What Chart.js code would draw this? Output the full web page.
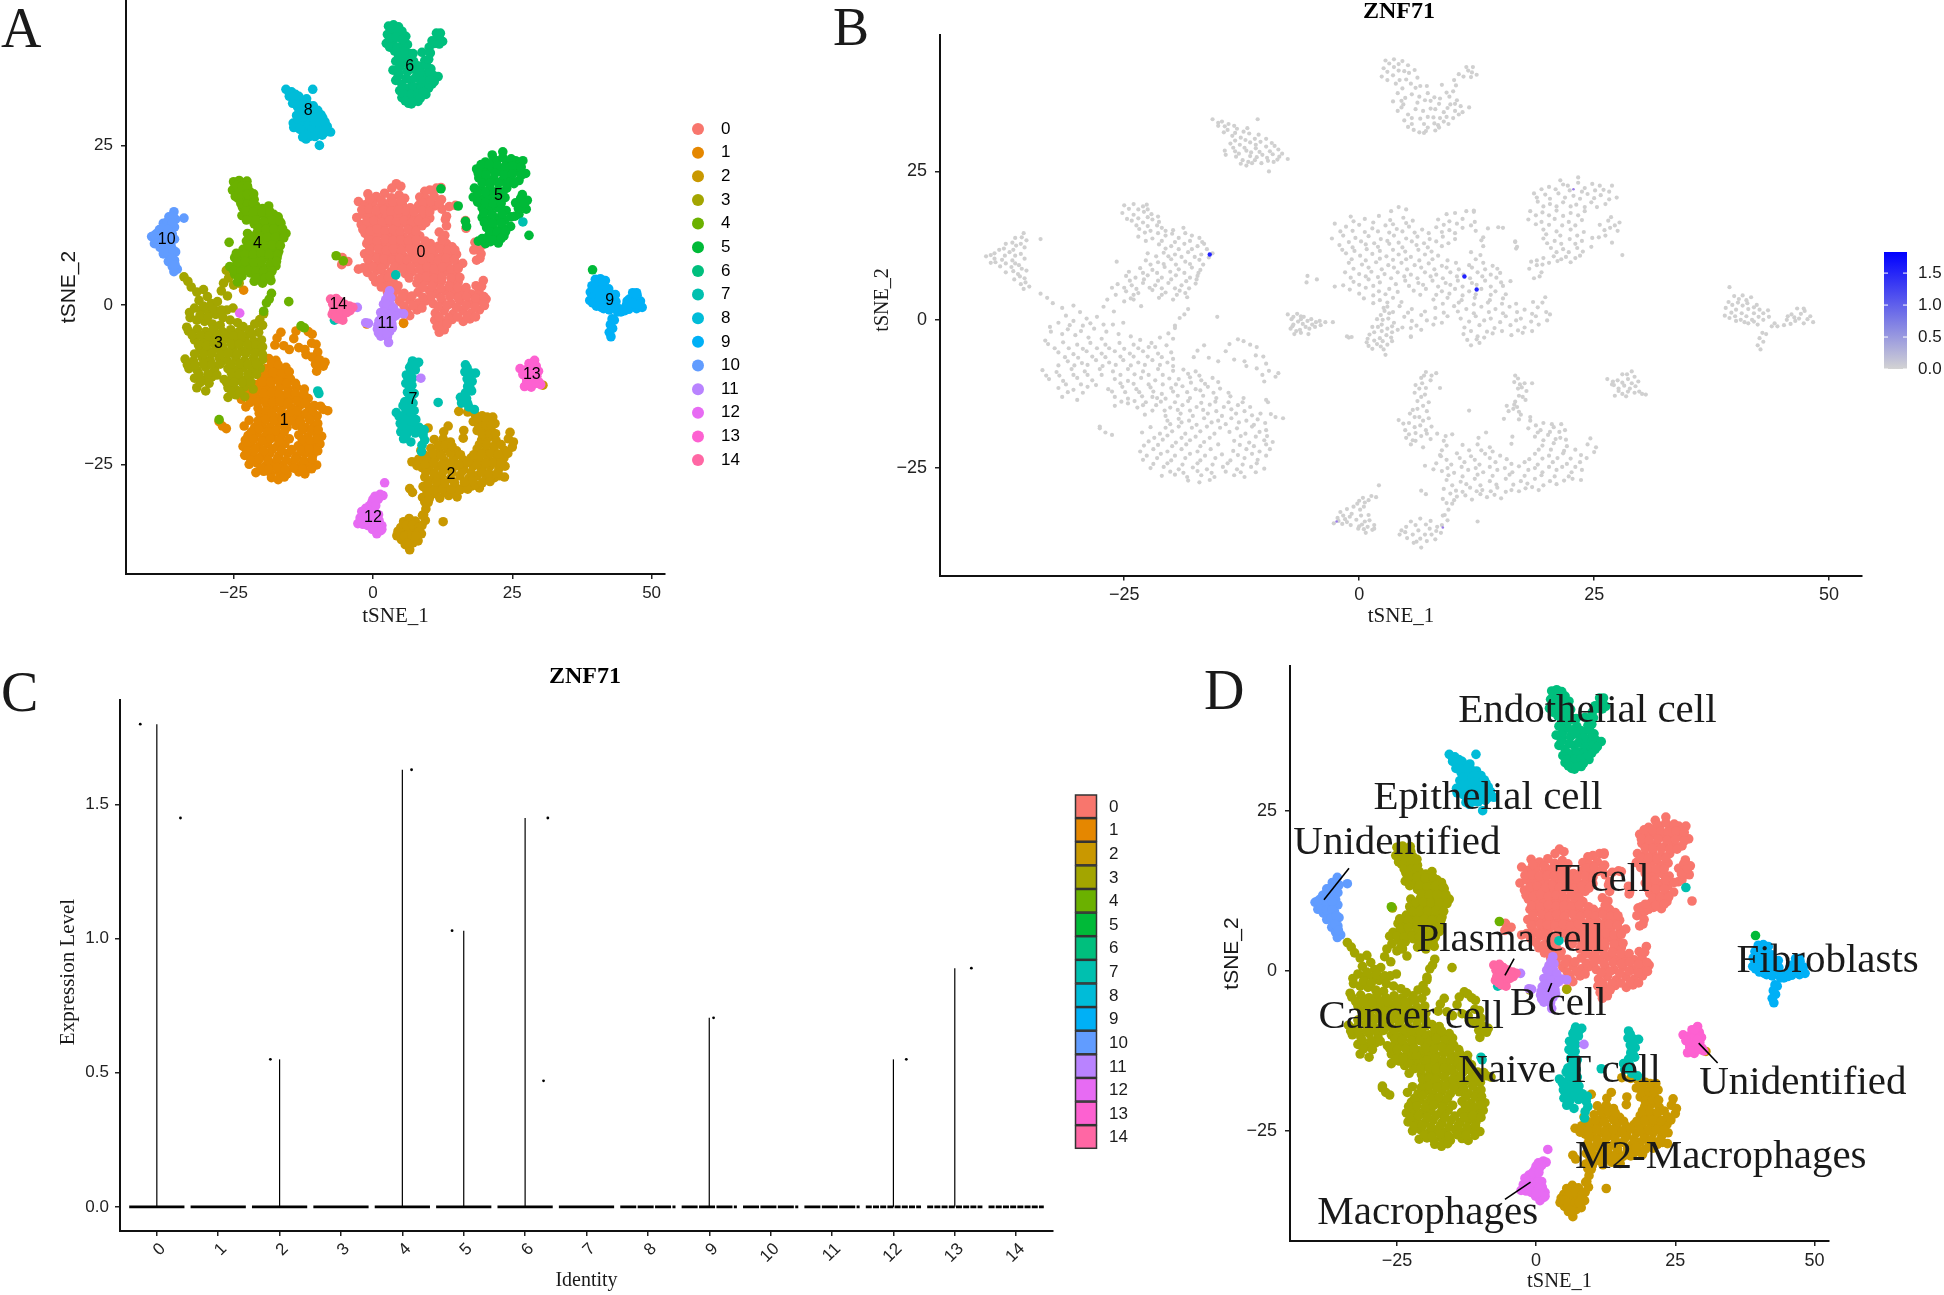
<!DOCTYPE html>
<html><head><meta charset="utf-8">
<style>html,body{margin:0;padding:0;background:#fff;overflow:hidden}canvas{position:absolute;display:block}</style>
<script src="https://cdn.jsdelivr.net/npm/chart.js@4"></script>
</head><body>
<canvas id="a" width="780" height="640" style="left:0;top:0"></canvas>
<canvas id="b" width="1124" height="640" style="left:820px;top:0"></canvas>
<canvas id="c" width="1060" height="645" style="left:0;top:650px"></canvas>
<canvas id="d" width="754" height="645" style="left:1190px;top:650px"></canvas>
<canvas id="cleg" width="120" height="400" style="left:1060px;top:770px"></canvas>
<script>
const identities=["0","1","2","3","4","5","6","7","8","9","10","11","12","13","14"];
const tsneTicks=[-25,0,25,50];
const tsneYTicks=[-25,0,25];
const hueColors=["#F8766D","#E58700","#C99800","#A3A500","#6BB100","#00BA38","#00BF7D","#00C0AF","#00BCD8","#00B0F6","#619CFF","#B983FF","#E76BF3","#FD61D1","#FF67A4"];
const mergedColors=["#F8766D","#A3A500","#C99800","#A3A500","#A3A500","#F8766D","#00BF7D","#00C0AF","#00BCD8","#00B0F6","#619CFF","#B983FF","#E76BF3","#FD61D1","#FF67A4"];

const cluster0=[[4.2,19],[5,18.6],[3.4,18.3],[11.4,18.3],[12.2,18.4],[10.2,18],[9.3,17.8],[-0.9,17.4],[0.6,17],[2.1,17.5],[3.3,16.8],[4.7,17.2],[5.7,16.7],[8.4,16.9],[9.6,16.6],[11,17],[12.3,16.5],[-2.6,16.2],[-1.4,15.7],[0,16],[1.4,15.4],[2.8,15.9],[4,15.3],[5.3,15.7],[6.7,15.2],[8.2,15.6],[9.6,15.1],[11,15.5],[12.4,15],[13.7,15.4],[14.8,15.6],[-2.9,13.7],[-1.7,14.2],[-0.4,13.8],[1,14.1],[2.3,13.6],[3.7,14.2],[5,13.7],[6.2,14],[7.5,13.6],[8.9,14],[10.2,13.6],[-2.1,12.6],[-0.7,12.2],[0.7,12.7],[2,12.3],[3.2,12.8],[4.6,12.2],[6.1,12.6],[7.3,12.2],[8.8,12.4],[13,13.4],[13.2,12.4],[16.6,13.2],[16.7,12],[-1.4,11.2],[0.1,10.8],[1.4,11.1],[2.9,10.7],[4.2,11],[5.5,10.6],[7,11],[8.4,10.8],[11.9,11.4],[12.9,10.9],[-1.1,9.6],[0.3,9.3],[1.8,9.7],[3.1,9.2],[4.5,9.6],[5.9,9.2],[7.4,9.5],[8.8,9.1],[10.3,9.6],[11.7,9.2],[13.2,9.6],[14.2,9.1],[18.9,9.2],[18.1,8.6],[19.4,8],[-1.5,8],[0,7.7],[1.3,8.1],[2.7,7.7],[4.1,8],[5.5,7.6],[7,8],[8.2,7.6],[9.7,8],[11.1,7.6],[12.6,8],[14,7.6],[15,7.9],[18.6,7],[-5.5,7.4],[-4.5,6.8],[-5.6,6.3],[-0.6,6.4],[1,6.8],[2.2,6.3],[4.9,6.6],[6.3,6.2],[7.8,6.6],[9.2,6.2],[10.5,6.6],[12,6.2],[13.4,6.6],[15.1,6.3],[16.1,6.5],[-2.6,5.6],[-1,5.1],[0.7,5.4],[2.1,4.8],[3.2,5.2],[5.8,4.9],[7.1,5.2],[8.8,4.8],[10.2,5.2],[11.7,4.8],[13,5.2],[14.5,4.8],[0.5,3.6],[2.2,3.3],[3.6,3.7],[7.9,3.4],[9.4,3.7],[10.9,3.3],[12.3,3.7],[13.9,3.3],[15.3,3.6],[19.8,3.8],[2.6,2],[4.3,2.3],[5.6,1.8],[8.1,2],[10.1,2.3],[11.4,1.8],[13,2.2],[14.5,1.8],[16,2.2],[17.6,1.7],[19,2.1],[4.8,0.5],[6.6,0.8],[8.1,0.3],[9.4,0.6],[10.8,0.2],[12.4,0.6],[14,0.2],[15.6,0.6],[17.2,0.2],[18.8,0.6],[20.3,0.9],[6.1,-1],[7.9,-0.8],[11.2,-1.3],[12.8,-0.9],[14.4,-1.4],[16.1,-0.9],[17.6,-1.3],[19.1,-0.8],[5.5,-2.8],[11.1,-2.4],[12.6,-2.8],[14.2,-2.3],[16.2,-2.6],[17.4,-2.2],[11.9,-4.3],[12.8,-3.9]];
const fill0=[[-0.6,16.6],[1.5,16.4],[3.6,16.1],[5,16.3],[9,16],[10.4,16.2],[11.9,15.9],[-2,14.9],[-0.7,15],[0.6,14.8],[2,14.9],[3.2,14.7],[4.6,14.9],[5.9,14.7],[7.4,14.6],[8.8,14.8],[10.2,14.6],[-1.1,13.1],[0.2,13.2],[1.6,12.9],[3,13.3],[4.2,13],[5.6,13.2],[6.9,12.9],[8.2,13.2],[9.5,12.9],[-1.8,11.8],[-0.5,11.6],[0.8,11.9],[2.2,11.6],[3.6,11.8],[4.9,11.5],[6.3,11.8],[7.7,11.5],[-0.8,10.2],[0.7,10],[2.2,10.3],[3.6,10.1],[5,10.2],[6.4,10],[7.8,10.2],[9.4,10],[12.4,10.2],[-0.6,8.6],[1,8.8],[2.4,8.5],[3.7,8.8],[5.1,8.5],[6.6,8.8],[8,8.5],[9.3,8.8],[10.6,8.5],[12,8.8],[13.4,8.5],[14.7,8.6],[-0.9,7.1],[0.7,7.3],[2,7.2],[3.4,7],[4.8,7.3],[6.2,7],[7.6,7.3],[8.9,7],[10.4,7.3],[11.8,7],[13.1,7.3],[14.6,7.1],[-1.7,5.8],[0,5.9],[1.5,5.7],[3.9,6],[5.3,5.7],[6.8,5.9],[8.4,5.6],[9.7,5.9],[11,5.6],[12.5,5.9],[14,5.6],[15.3,5.7],[0,4.4],[1.5,4.1],[2.8,4.3],[6.5,4.2],[8.2,4.2],[9.6,4.4],[11,4.1],[12.4,4.3],[14,4.2],[15.6,4.3],[1.5,2.8],[3,2.9],[4.5,3],[8.9,2.7],[10.6,2.9],[12.2,2.6],[13.7,2.9],[15.2,2.7],[16.7,2.7],[18.5,3],[19.5,2.9],[3.6,1.3],[5.2,1.2],[7,1.4],[9,1.2],[10.5,1.4],[12.2,1.1],[13.8,1.3],[15.3,1.1],[16.8,1.3],[18.4,1],[19.9,1.3],[5.6,-0.2],[7.2,-0.1],[8.8,-0.5],[11.7,-0.3],[13.3,-0.1],[15,-0.4],[16.7,-0.1],[18.3,-0.3],[20,-0.1],[6.6,-1.7],[11.9,-1.9],[13.6,-2],[15.2,-1.9],[16.9,-1.8],[18.4,-1.9],[11.5,-3.4],[12.5,-3.3],[13.3,-3],[18.3,9.8],[19.5,9.3],[19.2,7.3],[13.2,13.9]];

const cluster1=[[-17.2,-5.2],[-16.5,-4.3],[-17.6,-6.3],[-16,-6.4],[-15,-7],[-14.2,-5.3],[-13.8,-4.1],[-13.3,-6.7],[-12.2,-7],[-11.6,-4.2],[-10.9,-4.6],[-11,-6],[-10.2,-6.2],[-9.9,-7.4],[-10.9,-8.2],[-9.6,-8.6],[-8.9,-9.6],[-8.6,-9],[-10.1,-10.4],[-10.3,-9.3],[-12,-7.8],[-18.7,-8.4],[-17.4,-8.7],[-19.2,-10],[-18,-9.7],[-16.8,-10.2],[-15.6,-9.8],[-20,-11.5],[-18.8,-11.2],[-17.4,-11.7],[-16.1,-11.3],[-14.8,-11.6],[-22,-13],[-20.6,-13.3],[-19.3,-12.8],[-18,-13.2],[-16.6,-12.8],[-15.2,-13.2],[-13.7,-12.9],[-12.3,-13.2],[-23.6,-14.8],[-21.6,-14.4],[-20.1,-14.8],[-18.8,-14.4],[-17.3,-14.7],[-15.9,-14.3],[-14.4,-14.7],[-12.9,-14.4],[-11.6,-14.7],[-22.8,-16],[-20.6,-16.2],[-19,-15.8],[-17.7,-16.2],[-16.1,-15.8],[-14.6,-16.2],[-13.1,-15.8],[-11.4,-16.1],[-10.5,-15.8],[-8.9,-16.4],[-8.1,-16.6],[-9.4,-15.9],[-20.1,-17.6],[-18.9,-17.3],[-17.3,-17.7],[-15.7,-17.3],[-14.2,-17.6],[-12.8,-17.3],[-11.2,-17.7],[-10,-17.4],[-27.6,-18.3],[-27,-19],[-26.3,-19.4],[-23.1,-19],[-21.2,-19.2],[-19.9,-18.8],[-18.5,-19.2],[-16.9,-18.8],[-15.4,-19.2],[-13.8,-18.9],[-12.1,-19.2],[-10.6,-18.9],[-22.4,-20.5],[-20.9,-20.2],[-19.5,-20.7],[-18,-20.3],[-16.5,-20.6],[-13.3,-20.4],[-11.7,-20.7],[-10.1,-20.3],[-9.2,-20.6],[-23.3,-22.2],[-21.9,-21.8],[-20.4,-22.2],[-18.9,-21.8],[-17.2,-22.2],[-15.8,-21.8],[-13.4,-22.1],[-12,-21.8],[-10.6,-22.2],[-9.5,-21.8],[-23,-23.6],[-21.5,-23.3],[-20,-23.7],[-18.5,-23.3],[-16.9,-23.7],[-15.3,-23.3],[-13.7,-23.7],[-12.2,-23.3],[-10.8,-23.6],[-22.2,-25],[-20.8,-24.8],[-19.2,-25.2],[-17.7,-24.9],[-16.2,-25.2],[-14.5,-24.8],[-13,-25.2],[-11.5,-24.8],[-10.1,-25.1],[-21,-26.3],[-19.6,-26.1],[-18.3,-26.5],[-16.8,-26.2],[-15.4,-26.5],[-13.3,-26.2],[-12.2,-26.5],[-18.2,-27.1],[-17,-27.4],[-15.9,-27],[-23.2,2.3],[-1.1,-3],[5.5,-2.9]];
const fill1=[[-18.2,-9.1],[-17,-9.4],[-19.5,-10.9],[-17.9,-10.6],[-16.4,-10.8],[-15,-10.5],[-21,-12.5],[-19.8,-12.1],[-18.3,-12.2],[-16.9,-11.9],[-15.5,-12.3],[-13.9,-12.3],[-22.7,-13.9],[-21.1,-13.8],[-19.6,-13.9],[-18.2,-13.7],[-16.8,-14],[-15.3,-13.8],[-13.9,-13.9],[-12.4,-13.9],[-22,-15.3],[-20.7,-15.3],[-19.3,-15.2],[-18,-15.3],[-16.6,-15.2],[-15.2,-15.4],[-13.6,-15.1],[-12.2,-15.4],[-20.4,-17],[-19.2,-16.7],[-18.1,-17],[-16.5,-16.6],[-15,-17],[-13.6,-16.6],[-12,-17],[-10.8,-16.8],[-22.2,-18.1],[-20.6,-18.2],[-19.2,-18],[-17.8,-18.2],[-16.2,-18],[-14.8,-18.2],[-13,-18.3],[-11.4,-18],[-9.9,-18.6],[-21.8,-19.9],[-20.4,-19.5],[-18.9,-19.9],[-17.4,-19.7],[-15.9,-19.9],[-12.6,-19.6],[-11,-19.7],[-9.8,-19.6],[-22.9,-21.2],[-21.4,-21.1],[-19.9,-21.3],[-18.4,-21],[-16.9,-21.3],[-15,-21],[-12.7,-21.1],[-11.2,-21.3],[-9.9,-21],[-22.6,-22.9],[-21.1,-22.6],[-19.6,-22.9],[-18,-22.6],[-16.4,-22.9],[-14.6,-22.7],[-12.9,-22.8],[-11.4,-22.6],[-9.9,-22.9],[-21.9,-24.3],[-20.4,-24.2],[-18.8,-24.4],[-17.2,-24.2],[-15.6,-24.4],[-14,-24.2],[-12.4,-24.4],[-10.9,-24.2],[-20.1,-25.6],[-18.7,-25.8],[-17.2,-25.5],[-15.7,-25.8],[-14.2,-25.6],[-12.6,-25.7],[-11,-25.7]];

const cluster2=[[4.5,-35.5],[5.5,-34],[6.5,-33.5],[7.6,-33.9],[8.8,-34.6],[5.1,-36.8],[6.3,-35.5],[7.5,-35.2],[8.7,-35.9],[9.4,-33.8],[6.6,-38.4],[5.8,-37.6],[7.2,-37.3],[8.1,-37],[4.3,-36.2],[6.5,-36.9],[9.5,-32],[9.9,-31],[8.9,-33],[12.6,-34],[8.9,-30.2],[10.4,-29.8],[12,-30.3],[13.6,-29.9],[15.1,-30.1],[6.6,-28.8],[7.1,-29.4],[9,-28.5],[10.3,-28.8],[11.8,-28.3],[13.1,-28.7],[14.7,-28.3],[16.2,-28.7],[17.7,-28.4],[19.1,-28.7],[9.3,-27],[10.8,-27.3],[12.3,-26.8],[13.9,-27.2],[15.6,-26.8],[17.2,-27.2],[18.7,-26.8],[20.3,-27.2],[21.8,-27.1],[23.6,-27],[8.8,-25.5],[10.1,-25.8],[11.6,-25.3],[13.2,-25.7],[14.7,-25.3],[16.3,-25.7],[18,-25.3],[19.5,-25.7],[21,-25.3],[22.6,-25.7],[23.7,-25.3],[7,-24.6],[8.2,-24.2],[9.8,-24.4],[11.2,-24],[12.8,-24.4],[14.5,-24],[16.2,-24.3],[17.6,-24],[19,-24.4],[20.6,-24],[22.1,-24.3],[23.5,-24],[8.6,-22.8],[10.4,-22.5],[11.9,-23],[13.4,-22.6],[15,-22.9],[18.7,-22.6],[20.2,-22.9],[21.7,-22.5],[23.6,-22.8],[25,-22.3],[11,-21.1],[12.6,-21],[13.9,-21.5],[16.2,-20.9],[19.5,-21.2],[20.7,-20.8],[22.1,-21.3],[24.3,-21],[25.2,-21.5],[12.7,-19.9],[13.5,-19],[9.9,-19.3],[16.3,-19.7],[18.7,-19.7],[20.1,-19.4],[21.4,-19.9],[24.6,-20],[18,-18.3],[19.3,-18.6],[20.7,-18.1],[21.9,-18.6],[15.4,-16.7],[17,-16.8],[18.2,-17],[19.6,-17.4],[21.5,-17.6],[30.5,-12.6]];
const fill2=[[5,-34.9],[6,-34.6],[7.1,-34.5],[8.3,-34.9],[4.9,-35.8],[5.7,-36.2],[7,-36.2],[8.2,-35.6],[6.1,-37.4],[7.7,-36.2],[9.1,-32.9],[9.3,-30.9],[10.1,-30.4],[11.3,-29.6],[12.9,-29.4],[14.4,-29.5],[9.7,-29.3],[11,-29],[12.5,-28.9],[14,-28.9],[15.6,-29],[17,-28.9],[18.4,-28.2],[9.9,-27.9],[11.4,-27.7],[12.9,-27.9],[14.6,-27.8],[16.4,-27.8],[17.9,-27.6],[19.6,-27.9],[21,-27.7],[22.7,-26.8],[9.5,-26.2],[11,-26.4],[12.6,-26.1],[14.2,-26.3],[16,-26.1],[17.6,-26.3],[19.4,-26.2],[20.8,-26.4],[22.3,-26.4],[7.9,-25.2],[9.4,-25],[10.9,-24.8],[12.4,-25],[13.9,-24.8],[15.5,-25],[17,-24.7],[18.7,-25],[20.2,-24.8],[21.6,-24.8],[23,-24.8],[9.3,-23.6],[10.7,-23.3],[12.3,-23.6],[13.9,-23.3],[15.7,-23.5],[18.1,-23.5],[19.5,-23.4],[21.1,-23.3],[22.5,-23.4],[24.2,-23.3],[11.7,-22],[13,-22],[14.2,-22.2],[19.1,-21.9],[20.4,-21.9],[21.8,-22.1],[23,-21.9],[19.6,-20.3],[20.9,-20.1],[22,-20.2],[19,-19],[20.3,-18.9],[21.3,-18.9],[18.8,-17.8],[20.5,-17.6]];

const cluster3=[[-33.9,4.4],[-33.2,3.7],[-32.6,2.8],[-31.6,2],[-30.4,2.4],[-29.7,1.3],[-31.2,0.7],[-29,0.2],[-27.9,0.5],[-26.3,5.4],[-25.9,4.2],[-26.8,3.4],[-25,3.1],[-24,3.4],[-27.2,2.2],[-26.1,1.4],[-25.1,-0.5],[-26.2,-0.8],[-32,-0.5],[-30.8,-0.9],[-29.4,-1],[-28.2,-1.5],[-32.8,-2],[-31.6,-2.4],[-30.2,-2.6],[-28.8,-3],[-33.4,-3.5],[-27.4,-3.2],[-19.6,-1.4],[-20.3,-2.3],[-21.2,-3],[-22.1,-3.9],[-19.8,-3.2],[-20.5,-4.3],[-33.1,-4.1],[-31.5,-3.8],[-30,-4.2],[-28.6,-3.9],[-27,-4.2],[-25.5,-3.9],[-24,-4.2],[-22.4,-4.6],[-32,-5.5],[-30.4,-5.8],[-29,-5.3],[-27.4,-5.7],[-26,-5.3],[-24.4,-5.7],[-23,-5.3],[-21.4,-5.7],[-20,-5.5],[-31,-7],[-29.5,-7.3],[-28,-6.8],[-26.6,-7.2],[-25.1,-6.8],[-23.5,-7.2],[-22,-6.8],[-20.4,-7.2],[-33.7,-8.5],[-32.2,-8.8],[-30.6,-8.3],[-29.2,-8.7],[-27.6,-8.3],[-26.2,-8.7],[-24.6,-8.3],[-23,-8.7],[-21.4,-8.3],[-19.8,-8.6],[-33,-10],[-31.5,-10.3],[-30,-9.8],[-28.4,-10.2],[-26,-10],[-24.6,-10.3],[-23.2,-9.8],[-21.7,-10.2],[-20.2,-9.9],[-32,-11.5],[-30.4,-11.8],[-28.9,-11.3],[-26.7,-11.7],[-25.2,-11.3],[-23.7,-11.7],[-22.2,-11.4],[-31.6,-13],[-30,-13.5],[-26,-13],[-24.6,-13.3],[-23.1,-12.9],[-21.5,-13.2],[-26,-14.5],[-24.6,-14.1],[-23,-14.4]];
const fill3=[[-32.9,-1.2],[-31,-1.6],[-29.6,-1.9],[-30.4,-0.2],[-28.6,-0.6],[-27.2,-0.8],[-26.9,-2],[-25.6,-2.4],[-24.3,-2.8],[-23.3,-3.4],[-32.4,-4.8],[-30.9,-4.8],[-29.4,-4.9],[-27.9,-4.8],[-26.6,-4.8],[-25,-4.9],[-23.5,-4.8],[-21.7,-4.6],[-31.3,-6.3],[-29.9,-6.4],[-28.4,-6.2],[-27,-6.3],[-25.4,-6.2],[-24,-6.2],[-22.5,-6.2],[-21,-6.3],[-19.8,-6.6],[-32,-7.7],[-30.3,-7.7],[-28.9,-7.6],[-27.3,-7.8],[-25.9,-7.6],[-24.3,-7.7],[-22.8,-7.6],[-21.2,-7.6],[-19.8,-7.8],[-33.3,-9.4],[-31.9,-9.4],[-30.4,-9.3],[-28.9,-9.3],[-27.4,-9.3],[-25.4,-9.3],[-23.9,-9.2],[-22.4,-9.3],[-20.9,-9.3],[-31.2,-10.9],[-29.6,-10.9],[-28,-11],[-25.4,-10.7],[-24,-10.8],[-22.4,-10.9],[-20.9,-10.9],[-31,-12.2],[-29.4,-12.3],[-26.3,-12.1],[-24.9,-12.2],[-23.4,-12.2],[-21.9,-12.1],[-25.3,-13.8],[-23.9,-13.7]];

const cluster4=[[-25,19.3],[-24,19.5],[-23,19.1],[-22.6,19.4],[-25.2,18],[-24,17.7],[-22.9,18.2],[-22.1,17.8],[-24.2,16.7],[-23,16.4],[-22,16.9],[-21.3,16.5],[-23.4,15.3],[-22.2,15],[-21,15.5],[-19.8,15.1],[-18.7,15.5],[-23.5,14],[-22,13.7],[-20.6,14.2],[-19.2,13.8],[-17.8,14.2],[-17,13.8],[-21.3,12.7],[-20,12.4],[-18.6,12.8],[-17.2,12.4],[-16.5,12.8],[-22.5,11.2],[-20.8,11.3],[-19.6,11],[-18.2,11.4],[-16.8,11],[-15.6,11.2],[-25.8,9.8],[-22.7,10],[-21.4,9.7],[-20,10.2],[-18.5,9.8],[-17,10.1],[-23.3,8.7],[-22,8.4],[-20.7,8.9],[-19.2,8.5],[-17.8,8.8],[-16.9,8.4],[-24.8,7.4],[-23.8,7.1],[-22.5,7.5],[-21,7.1],[-19.5,7.5],[-18,7.1],[-17.2,7.4],[-25.7,6],[-24.2,5.8],[-23,6.2],[-21.7,5.8],[-20.3,6.2],[-18.9,5.8],[-17.4,6.1],[-24.8,4.8],[-23.5,4.5],[-22,5],[-20.6,4.6],[-19.1,4.9],[-24.3,3.6],[-21.3,3.7],[-19.8,3.4],[-18.3,3.8],[-15.1,0.5],[-18.2,1.8],[-19.1,0.3],[-18.6,0.9],[-19.6,-1],[-12.9,-3.3],[-12.3,-3.6],[-27.6,-18]];
const fill4=[[-24.5,18.7],[-23.5,18.6],[-22.5,18.6],[-24.7,17],[-23.5,17.1],[-22.5,17.3],[-21.4,17.4],[-23.7,15.9],[-22.5,15.8],[-21.5,15.9],[-20.6,15],[-22.8,14.7],[-21.4,14.6],[-19.9,14.5],[-18.5,14.6],[-22.7,13.3],[-21,13.3],[-19.6,13.1],[-18,13.3],[-16.7,13.1],[-20.6,12],[-19.2,11.9],[-17.8,11.9],[-16.2,11.9],[-21.6,10.7],[-20.3,10.7],[-18.9,10.6],[-17.5,10.6],[-16,10.5],[-22.2,9.3],[-20.8,9.4],[-19.5,9.3],[-18,9.4],[-16.6,9.3],[-24.5,8.1],[-23,7.9],[-21.5,7.9],[-20.1,8.1],[-18.6,7.9],[-17.1,7.9],[-24.4,6.6],[-22.9,6.8],[-21.4,6.6],[-20,6.8],[-18.4,6.5],[-17.3,6.8],[-25,5.4],[-23.7,5.2],[-22.3,5.4],[-21,5.3],[-19.6,5.3],[-18.1,5.3],[-24,4.2],[-21,4.2],[-19.4,4.2],[-18.5,4.5]];

const cluster5=[[23.3,24],[21.4,23.5],[20.2,22.4],[22.2,22.6],[24,22.2],[25.6,22.6],[26.9,22.6],[18.6,21.3],[19.8,21.1],[21.2,21.3],[22.8,20.9],[24.3,21.2],[25.7,21],[27.4,20.6],[19,19.9],[20.3,19.5],[21.7,19.8],[23.1,19.4],[24.7,19.8],[26.2,19.5],[18.2,18.3],[19.5,18.1],[21,18.4],[22.5,18],[24,18.3],[18,16.9],[19.4,16.5],[20.8,17],[22.3,16.5],[23.7,16.8],[26.8,17.3],[27.7,16.4],[25.6,16],[26.7,15.5],[27.5,15],[19.6,15.2],[21,14.9],[22.5,15.2],[23.9,14.8],[26.2,14.2],[25.5,13.9],[19.6,13.7],[20.8,13.3],[22.4,13.6],[23.7,13.3],[20.4,12.1],[21.7,11.9],[23.2,12.1],[24.7,12.3],[20.7,10.7],[22,10.6],[23.5,10.8],[18.9,10],[20.2,9.6],[21.1,9.9],[22.5,9.7],[28,10.9],[15.3,15.5],[12.2,18.2],[16.6,13.1],[16.8,12.3]];
const fill5=[[23.3,23.1],[21.7,22.8],[24.8,22.9],[26,21.9],[19.4,22],[20.9,22],[22.4,21.8],[23.7,21.6],[25.1,21.8],[26.6,21.6],[18.9,20.6],[20.3,20.4],[21.9,20.6],[23.5,20.4],[25,20.5],[26.6,20.3],[19.6,19.1],[21,19.1],[22.5,19.1],[24,19],[25.3,19],[18.8,17.6],[20.2,17.6],[21.7,17.5],[23.3,17.6],[18.8,16.1],[20.2,16],[21.6,15.9],[23,15.9],[26.1,15.1],[26.5,16.7],[27.2,15.9],[19.9,14.4],[21.4,14.2],[23.2,14.2],[24.8,13.8],[20,12.9],[21.5,12.8],[23,12.8],[21,11.4],[22.3,11.4],[23.8,11.5],[19.6,10.4],[21.5,10.2],[23,10.4]];

const cluster6=[[2.8,43.7],[3.7,43.9],[4.6,43.6],[5.2,42.9],[2.6,42.4],[3.7,42.6],[4.8,41.9],[5.9,42.1],[2.4,41],[3.6,41.2],[5,40.5],[6.2,40.8],[3.9,39.8],[6.5,39.4],[4.1,38.2],[5.6,38],[7.3,38.2],[3.6,36.8],[4.7,36.3],[6.2,36.6],[7.6,36.9],[8.6,37.3],[4.1,35.2],[5.2,34.6],[6.8,35.2],[8.1,35.5],[9.4,35.7],[10.8,36],[11.7,35.8],[10.4,37],[4.8,33.6],[6.5,33.9],[7.9,34.1],[9.3,34.2],[10.6,34.6],[5.2,32.5],[6.4,31.6],[7.3,32.4],[8.4,32.8],[9.5,33],[6.9,31.5],[8.1,31.9],[9.3,38.3],[8.8,39.6],[9.7,36.3],[11.1,41],[12,41.7],[12.5,41.3],[11.4,42.6],[10.6,41.4],[10.1,40.4]];
const fill6=[[3.2,43.2],[4.2,43.1],[3,41.8],[4.2,42],[5.3,41.6],[3,40.4],[4.3,40.4],[5.5,39.8],[4.6,39],[6,39.1],[7.2,39.4],[4.9,37.4],[6.4,37.6],[8,37.5],[9.6,37.6],[4.5,36.9],[7,37],[8.5,36.4],[10.2,36.4],[4.5,35.8],[6,35.5],[7.6,35.6],[9,35],[10.2,35.2],[11,35],[5.6,34],[7.3,34.2],[8.6,34],[10,34],[5.6,33],[6.9,33],[8,33.1],[9,33.4],[5.8,32],[7.1,31.8],[8.5,32.4],[11.6,42],[11.9,40.9],[10.3,39.5],[10,38.5],[12.1,42.6]];

const cluster7=[[7.1,-8.8],[8.2,-9],[6.6,-9.8],[7.6,-10.2],[6,-11],[7.1,-11.5],[5.9,-12.3],[7,-12.6],[6.2,-13.7],[7.4,-13.9],[6.2,-15],[7.2,-15.4],[5.4,-15.8],[6.4,-16.4],[7.4,-16.6],[4.2,-16.9],[5.3,-17.4],[6.5,-17.8],[7.7,-18],[4.9,-18.6],[6,-19.1],[7.2,-19.2],[8.3,-19.2],[5,-19.9],[6,-20.4],[7.6,-20.1],[5.5,-21],[9,-20.4],[9.3,-21.2],[6.8,-21.5],[8.8,-22],[9.2,-19.6],[8.7,-23],[16.6,-9.4],[16.5,-10.5],[17.6,-10.7],[18.4,-10.7],[16.9,-11.6],[17.8,-12],[17,-12.8],[17.7,-13.5],[16.6,-13.8],[15.7,-14.5],[16.8,-14.7],[15.9,-15.4],[17,-15.5],[18.2,-16.4],[11.7,-15.3],[4.1,4.7],[26.9,13],[-9.7,-13.9],[-6.9,-2.4],[-9.9,-13.5]];
const fill7=[[6.9,-9.4],[7.7,-9.4],[6.7,-10.7],[6.4,-11.6],[6.6,-13],[6.8,-14.5],[5.7,-15.2],[5.9,-16.4],[6.8,-17],[4.7,-17.5],[5.9,-18.1],[7.1,-18.6],[5.3,-19.3],[6.6,-19.6],[5.7,-20.3],[16.9,-9.9],[17.1,-10.9],[17.3,-11.4],[17.4,-13],[16.5,-14.3],[16.4,-15],[17.2,-16]];

const cluster8=[[-15.6,33.8],[-14.6,33.4],[-13.9,33],[-10.8,33.8],[-15,32.7],[-14,32],[-13,32.2],[-11.9,32.3],[-13.5,31],[-12.6,30.7],[-11.7,31.4],[-10.7,31.2],[-13.7,29.7],[-12.7,29.5],[-11.6,29.9],[-10.5,30],[-9.9,30.5],[-14.3,28.5],[-13.2,28.4],[-12,28.5],[-11,28.9],[-9.9,29.2],[-9,29.3],[-14.2,27.8],[-11.6,27.6],[-10.3,27.8],[-9.2,27.9],[-8.2,28],[-12.4,26.9],[-11.1,26.9],[-9.7,26.8],[-8.7,27],[-7.6,27.1],[-12,26],[-11.4,26.4],[-9.6,25]];
const fill8=[[-15,33.2],[-14.3,32.6],[-13.3,32.7],[-14.4,31.6],[-13.2,31.5],[-12.3,31.7],[-12.1,30.3],[-13.2,30.2],[-11.1,30.5],[-13.4,29],[-12.2,29],[-11,29.5],[-9.3,29.8],[-12.8,28],[-11.5,28.2],[-10.6,28.3],[-9.5,28.4],[-8.6,28.7],[-13.1,27.5],[-10.9,27.4],[-9.8,27.3],[-8.5,27.5],[-11.8,26.6],[-10.4,26.4],[-9.1,26.6],[-12.6,26.3]];

const cluster9=[[39.9,4],[40.8,4.1],[41.7,3.8],[39.3,3],[40.3,2.9],[41.3,2.8],[42.3,2.5],[39,2],[40.1,1.7],[41.4,1.8],[42.6,1.7],[43.5,1.6],[38.9,0.7],[40,0.6],[41.2,0.6],[42.5,0.5],[43.6,0.5],[40.1,-0.2],[41.4,-0.6],[42.4,-0.8],[43.9,-1.1],[44.5,-1.1],[45.2,-0.9],[45.5,0],[46.4,-0.2],[47.3,-0.6],[48.3,-0.4],[46,0.9],[47,1],[48,0.6],[46.6,1.9],[47.4,1.5],[42.9,-2.2],[43.3,-2.4],[42.6,-3.1],[43,-3.7],[42.4,-4.3],[42.7,-5]];
const fill9=[[40.4,3.5],[41.2,3.3],[39.7,2.5],[40.8,2.4],[42,2.1],[39.6,1.2],[40.7,1.1],[42,1.1],[43,1.1],[39.4,0.3],[40.6,0],[41.8,0],[43,0],[41,-0.4],[42,-0.3],[44.2,-0.6],[45.9,-0.7],[46.8,0.2],[47.7,0.1],[46.3,0.4],[45.6,0.6],[47.3,1.9]];

const cluster10=[[-35.7,14.6],[-36.6,13.8],[-33.9,13.6],[-35.4,13.4],[-37.6,12.8],[-36.5,12.5],[-35.6,12.2],[-38.3,11.8],[-37.2,11.4],[-36,11.1],[-39.7,10.7],[-38.8,10.3],[-38,10.1],[-36.9,10],[-35.6,10.3],[-39.2,9.6],[-38.2,9],[-37,8.9],[-36.2,9.2],[-37.6,8],[-36.3,7.7],[-35.4,8.3],[-36.7,6.8],[-35.6,7],[-36,6],[-35.1,5.6],[-35.7,5.2]];
const fill10=[[-35.9,13.9],[-36.9,13],[-36,12.8],[-37.8,12],[-36.8,11.8],[-38.8,11.2],[-37.7,10.8],[-36.6,10.8],[-39.2,10.9],[-38.7,9.7],[-37.6,9.5],[-36.6,9.5],[-36.8,8.2],[-35.9,8.6],[-36.1,7.3],[-35.5,6.3]];

const cluster11=[[3,2.2],[3.2,1.1],[2.3,0.8],[1.9,0.1],[3.1,0.2],[2.4,-0.8],[3.5,-1.1],[4.6,-1.3],[5.5,-1.4],[1.4,-1.2],[2.4,-1.9],[3.5,-2.1],[-1.3,-2.8],[-0.8,-2.9],[1.1,-2.5],[2.2,-3.1],[3.4,-3],[0.8,-3.8],[1.9,-4.1],[3,-4.2],[1.4,-4.9],[2.6,-5],[2.8,-5.9],[-2.8,-0.4],[8.6,-11.5]];
const fill11=[[2.7,1.5],[2.5,0],[3.7,-0.5],[2,-1.2],[3,-1.5],[4.1,-1.7],[1.6,-2.1],[2.9,-2.6],[0.9,-3.2],[2.5,-3.6],[3.5,-3.6],[1.6,-3.5],[2.3,-4.5],[1,-4.4]];

const cluster12=[[2.1,-27.9],[1.3,-29.7],[0.4,-30],[0.6,-30.8],[-0.2,-31],[0.1,-32],[-1.3,-31.9],[-2,-32.4],[-0.8,-32.7],[1,-32.9],[-2.3,-33.4],[-1.5,-33.6],[-0.3,-33.7],[1.1,-33.8],[-2.7,-34.3],[-1.8,-34.4],[-0.9,-34.6],[0.3,-34.5],[1.6,-34.6],[0.5,-35.3],[1.4,-35.4],[-0.1,-35.2],[0.7,-35.9]];
const fill12=[[1.8,-29.9],[1,-30.4],[0,-30.5],[-0.6,-31.5],[0.5,-31.5],[-1.7,-33],[0.2,-33],[-1,-33.2],[0.6,-34],[-2.2,-33.9],[-1.3,-34.1],[0.9,-34.9],[1.6,-35.2],[0,-34.8]];

const cluster13=[[29,-8.7],[28,-9.2],[29.3,-9.6],[26.4,-10],[27.5,-10.2],[28.6,-10],[29.7,-10.4],[27.1,-11],[28.2,-11.1],[29.4,-11.2],[27.6,-12],[28.6,-12.1],[29.8,-12.1],[27.2,-12.8],[28.4,-12.9],[30.1,-12.5]];
const fill13=[[28.5,-9.2],[27,-10.4],[28,-10.6],[29,-10.7],[27.6,-11.6],[28.8,-11.6],[28,-12.5],[29.3,-12.3],[26.9,-10.9]];

const cluster14=[[-7.6,0.9],[-6.6,1],[-5.9,0.5],[-7.2,0.1],[-6.2,0.1],[-5.1,0.1],[-4.2,-0.2],[-3.6,-0.4],[-7,-0.8],[-6,-0.7],[-5,-0.8],[-4.1,-0.9],[-7.3,-1.5],[-6.3,-1.7],[-5.3,-1.5],[-6.2,-2.2],[-5.4,-2.4]];
const fill14=[[-7,0.5],[-6.2,0.6],[-5.5,-0.2],[-6.5,-0.3],[-4.6,-0.4],[-7.1,-1.1],[-5.7,-1.2],[-4.7,-1.2],[-6.7,-1.9]];

const clusters=[cluster0.concat(fill0),cluster1.concat(fill1),cluster2.concat(fill2),cluster3.concat(fill3),cluster4.concat(fill4),cluster5.concat(fill5),cluster6.concat(fill6),cluster7.concat(fill7),cluster8.concat(fill8),cluster9.concat(fill9),cluster10.concat(fill10),cluster11.concat(fill11),cluster12.concat(fill12),cluster13.concat(fill13),cluster14.concat(fill14)];

const strayGreen4=[[-26,10],[-6.6,7.7]];
const strayGreen5=[[39.4,5.5]];
const strayPink=[[-23.9,-1.3]];
const strayGreenA=[[-6.6,7.7],[-5.3,6.9]];

const clusterLabelSpots=[[8.6,8.2],[-15.9,-18.2],[14,-26.6],[-27.7,-6],[-20.7,9.6],[22.5,17.2],[6.6,37.4],[7.2,-14.8],[-11.6,30.4],[42.5,0.6],[-37,10.3],[2.3,-3],[0,-33.3],[28.5,-10.9],[-6.2,0]];

const expressingCells=[[-15.9,11],[11.2,7.3],[12.5,5.1]];
const faintCells=[[22.8,22],[-2.4,-34],[8.9,-35]];
const barTicks=[0,0.5,1,1.5];

const violinMax=[1.8,0,0.55,0,1.63,1.03,1.45,0,0,0.705,0,0,0.55,0.89,0];
const jitterX=[-0.27,0.385,1.85,4.15,4.81,6.37,6.3,9.07,12.21,13.27];
const jitterY=[1.8,1.45,0.55,1.63,1.03,1.45,0.47,0.705,0.55,0.89];
const levelTicks=[0,0.5,1,1.5];

const cellTypeText=["Endothelial cell","Epithelial cell","Unidentified","T cell","Plasma cell","Fibroblasts","B cell","Cancer cell","Naive T cell","Unidentified","M2-Macrophages","Macrophages"];
const cellTypeSpot=[[-14,40.6],[-29.2,27],[-43.6,19.9],[3.4,14.2],[-21.5,4.8],[36,1.5],[-4.7,-5.2],[-39.1,-7.3],[-14,-15.7],[29.3,-17.6],[7,-29.1],[-39.3,-37.9]];
const pointerLines=[[[-33.6,16],[-38.1,11.1]],[[-3.95,1.9],[-5.6,-0.7]],[[2.8,-1.9],[2.15,-3.3]],[[29.2,-11.3],[32.6,-14.4]],[[-1,-33],[-5.6,-35.7]]];

const SANS='"Liberation Sans",Arial,sans-serif', SERIF='"Liberation Serif","Times New Roman",serif';
const INK='#1a1a1a';
Chart.defaults.animation=false;
Chart.defaults.responsive=false;
const fmt=v=>String(v).replace('-','\u2212');
const toPts=a=>a.map(p=>({x:p[0],y:p[1]}));

function textPlugin(items){return{id:'panelText',afterDraw(ch){const c=ch.ctx;
  for(const it of items){
    c.save();
    const x=it.dx!==undefined?ch.scales.x.getPixelForValue(it.dx):it.x;
    const y=it.dy!==undefined?ch.scales.y.getPixelForValue(it.dy):it.y;
    c.font=it.font;c.fillStyle=it.color||'#000';c.textAlign=it.align||'left';c.textBaseline=it.base||'middle';
    c.translate(x,y);if(it.rot)c.rotate(it.rot);
    c.fillText(it.t,0,0);
    c.restore();
  }}};}

function axis(o){return{type:'linear',min:o.min,max:o.max,
  afterFit:s=>{if(s.isHorizontal())s.height=o.size;else s.width=o.size;s.paddingTop=0;s.paddingBottom=0;s.paddingLeft=0;s.paddingRight=0;},
  afterBuildTicks:s=>{s.ticks=o.ticks.map(v=>({value:v}));},
  grid:{display:true,drawOnChartArea:false,drawTicks:true,tickLength:5,color:'#222',lineWidth:1.5},
  border:{display:true,color:'#111',width:2},
  ticks:{font:{family:SANS,size:o.fs||17},color:'#222',padding:o.pad||4,autoSkip:false,maxRotation:o.rot||0,minRotation:o.rot||0,labelOffset:o.off||0,callback:o.cb||(v=>fmt(v))},
  title:{display:!!o.title,text:o.title||'',font:{family:o.tf||SERIF,size:o.ts||21},color:INK,padding:o.tp||0}};}

function cfg(datasets,T,R,x,y,items){return{type:'scatter',data:{datasets},options:{
  layout:{autoPadding:false,padding:{left:0,top:T,right:R,bottom:0}},
  plugins:{legend:{display:false},tooltip:{enabled:false}},
  scales:{x:axis(x),y:axis(y)}},plugins:[textPlugin(items)]};}
const UP=-Math.PI/2;

/* Panel A */
const legendA=identities.map((t,i)=>({t,x:721,y:129+i*23.65,font:`17px ${SANS}`}));
const labelsA=identities.map((t,i)=>({t,dx:clusterLabelSpots[i][0],dy:clusterLabelSpots[i][1],font:`16px ${SANS}`,align:'center'}));
const lettersA=[{t:'A',x:1,y:47,font:`56px ${SERIF}`,base:'alphabetic',color:INK}];
const dotsPlugin={id:'legendDots',afterDraw(ch){const c=ch.ctx;c.save();hueColors.forEach((col,i)=>{c.fillStyle=col;c.beginPath();c.arc(698,129+i*23.65,6,0,Math.PI*2);c.fill();});c.restore();}};
const dsA=clusters.map((cl,i)=>({label:identities[i],data:toPts(cl),backgroundColor:hueColors[i],borderWidth:0,pointRadius:4.8,order:100-i}));
dsA.push({label:'stray 5',data:toPts(strayGreen5),backgroundColor:hueColors[5],borderWidth:0,pointRadius:4.8,order:50});
dsA.push({label:'stray 12',data:toPts(strayPink),backgroundColor:hueColors[12],borderWidth:0,pointRadius:4.8,order:50});
dsA.push({label:'stray 4',data:toPts(strayGreenA),backgroundColor:hueColors[4],borderWidth:0,pointRadius:4.8,order:50});
const cfgA=cfg(dsA,0,115,
 {min:-44.3,max:52.4,ticks:tsneTicks,size:66,tp:{bottom:11},title:'tSNE_1',ts:21,pad:4},
 {min:-42.2,max:47.8,ticks:tsneYTicks,size:126,tp:{top:57},title:'tSNE_2',tf:SANS,ts:21,pad:8},
 legendA.concat(labelsA,lettersA));
cfgA.plugins.push(dotsPlugin);
new Chart(document.getElementById('a'),cfgA);

/* Panel B */
const barMax=1.83;
const barPlugin={id:'colorBar',afterDraw(ch){const c=ch.ctx;c.save();const g=c.createLinearGradient(0,252,0,369);g.addColorStop(0,'#0000FF');g.addColorStop(1,'#D3D3D3');c.fillStyle=g;c.fillRect(1064,252,23,117);
 c.strokeStyle='#fff';c.lineWidth=1;barTicks.forEach(v=>{const y=369-v/barMax*117;c.beginPath();c.moveTo(1064,y);c.lineTo(1068,y);c.moveTo(1083,y);c.lineTo(1087,y);c.stroke();});c.restore();}};
const allCells=toPts(clusters.flat().concat(strayGreen5));
const barLabels=barTicks.map(v=>({t:v.toFixed(1),x:1098,y:369-v/barMax*117,font:`17px ${SANS}`,color:INK}));
const cfgB=cfg([
 {label:'cells',data:allCells,backgroundColor:'#D0D0D0',borderWidth:0,pointRadius:2.1,order:5},
 {label:'expressing',data:toPts(expressingCells),backgroundColor:'#2222FF',borderWidth:0,pointRadius:2.2,order:1},
 {label:'faint',data:toPts(faintCells),backgroundColor:'#9A7BE8',borderWidth:0,pointRadius:1.3,order:2}],35,82,
 {min:-44.6,max:53.5,ticks:tsneTicks,size:64.5,tp:{bottom:11},title:'tSNE_1',ts:21,fs:18,pad:4},
 {min:-43.1,max:48,ticks:tsneYTicks,size:120,fs:18,pad:8},
 barLabels.concat([{t:'tSNE_2',x:63,y:300,rot:UP,align:'center',font:`20px ${SERIF}`,color:INK},{t:'B',x:13,y:45,font:`54px ${SERIF}`,base:'alphabetic',color:INK},{t:'ZNF71',x:579,y:12,font:`bold 24px ${SERIF}`,align:'center'}]));
cfgB.plugins.push(barPlugin);
new Chart(document.getElementById('b'),cfgB);

/* Panel C */
const ds=[];
violinMax.forEach((m,i)=>{
  ds.push({label:'base '+i,data:[{x:i-0.45,y:0},{x:i+0.45,y:0}],showLine:true,borderColor:'#000',borderWidth:2.6,borderDash:i<8?[]:(i<12?[16,1.4]:[6,1.2]),pointRadius:0,order:3});
  if(m>0)ds.push({label:'stem '+i,data:[{x:i,y:0},{x:i,y:m}],showLine:true,borderColor:'#000',borderWidth:1.2,pointRadius:0,order:2});
});
ds.push({label:'jitter',data:jitterX.map((x,i)=>({x,y:jitterY[i]})),backgroundColor:'#000',borderWidth:0,pointRadius:1.4,order:1});
new Chart(document.getElementById('c'),cfg(ds,50,7,
 {min:-0.6,max:14.6,ticks:identities.map(Number),size:64,tp:{bottom:2},title:'Identity',ts:20,rot:45,off:6,pad:3,cb:v=>String(v)},
 {min:-0.09,max:1.89,ticks:levelTicks,size:120,pad:6,cb:v=>v.toFixed(1)},
 [{t:'Expression Level',x:68,y:322,rot:UP,align:'center',font:`21px ${SERIF}`,color:INK},{t:'C',x:1,y:61,font:`56px ${SERIF}`,base:'alphabetic',color:INK},{t:'ZNF71',x:585,y:27,font:`bold 24px ${SERIF}`,align:'center'}]));

/* Panel C legend */
const legC={id:'boxes',afterDraw(ch){const c=ch.ctx;c.save();hueColors.forEach((col,i)=>{const y=25+i*23.62;c.fillStyle=col;c.fillRect(15.5,y,21,22.6);c.strokeStyle='#333';c.lineWidth=1.5;c.strokeRect(15.5,y,21,22.6);});c.restore();}};
new Chart(document.getElementById('cleg'),{type:'scatter',data:{datasets:[]},options:{scales:{x:{display:false},y:{display:false}},plugins:{legend:{display:false},tooltip:{enabled:false}}},plugins:[legC,textPlugin(identities.map((t,i)=>({t,x:49,y:37+i*23.62,font:`17px ${SANS}`,color:INK})))]});

/* Panel D */
const dsD=clusters.map((cl,i)=>({label:identities[i],data:toPts(cl),backgroundColor:mergedColors[i],borderWidth:0,pointRadius:4.8,order:100-i}));
dsD.push({label:'stray 4',data:toPts(strayGreen4),backgroundColor:hueColors[4],borderWidth:0,pointRadius:4.8,order:50});
dsD.push({label:'stray 5',data:toPts(strayGreen5),backgroundColor:hueColors[5],borderWidth:0,pointRadius:4.8,order:50});
pointerLines.forEach((l,i)=>dsD.push({label:'pointer '+i,data:toPts(l),showLine:true,borderColor:'#000',borderWidth:1.6,pointRadius:0,order:1}));
new Chart(document.getElementById('d'),cfg(dsD,16,115,
 {min:-44.2,max:52.6,ticks:tsneTicks,size:54,tp:{bottom:1},title:'tSNE_1',ts:20.5,fs:18,pad:4},
 {min:-42.2,max:47.6,ticks:tsneYTicks,size:100,tp:{top:30},title:'tSNE_2',tf:SANS,ts:21,fs:18,pad:8},
 cellTypeText.map((t,i)=>({t,dx:cellTypeSpot[i][0],dy:cellTypeSpot[i][1],font:`41px ${SERIF}`,color:INK})).concat([{t:'D',x:14,y:59,font:`56px ${SERIF}`,base:'alphabetic',color:INK}])));
</script>
</body></html>
